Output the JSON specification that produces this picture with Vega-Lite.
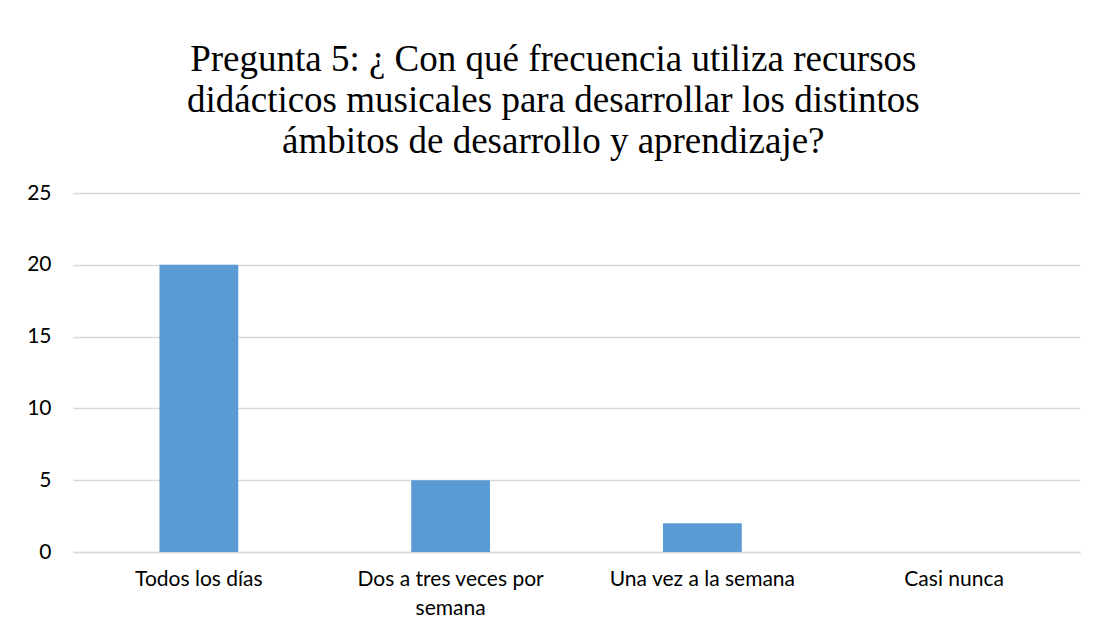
{
  "$schema": "https://vega.github.io/schema/vega-lite/v6.json",
  "width": 1098,
  "height": 637,
  "autosize": {"type": "fit", "contains": "padding"},
  "padding": {"left": 26, "right": 18, "top": 41, "bottom": 19},
  "background": "white",
  "title": {
    "text": ["Pregunta 5:  ¿ Con qué frecuencia utiliza recursos", "didácticos musicales para desarrollar los distintos", "ámbitos de desarrollo y aprendizaje?"],
    "font": "Liberation Serif",
    "fontSize": 37,
    "fontWeight": "normal",
    "color": "#000000",
    "lineHeight": 41,
    "anchor": "middle",
    "frame": "bounds",
    "offset": 21
  },
  "data": {
    "values": [
      {"categoria": "Todos los días", "valor": 20},
      {"categoria": "Dos a tres veces por semana", "valor": 5},
      {"categoria": "Una vez a la semana", "valor": 2},
      {"categoria": "Casi nunca", "valor": 0}
    ]
  },
  "mark": {"type": "bar", "color": "#5B9BD5"},
  "encoding": {
    "x": {
      "field": "categoria",
      "type": "nominal",
      "sort": null,
      "title": null,
      "scale": {"paddingInner": 0.687, "paddingOuter": 0.3435},
      "axis": {
        "labelAngle": 0,
        "labelFont": "Lato",
        "labelFontSize": 21,
        "labelColor": "#000000",
        "labelPadding": 16,
        "labelLineHeight": 29,
        "labelLimit": 0,
        "labelExpr": "datum.label == 'Dos a tres veces por semana' ? ['Dos a tres veces por', 'semana'] : datum.label",
        "ticks": false,
        "domain": true,
        "domainColor": "#D9D9D9",
        "domainWidth": 1.5,
        "grid": false
      }
    },
    "y": {
      "field": "valor",
      "type": "quantitative",
      "title": null,
      "scale": {"domain": [0, 25]},
      "axis": {
        "values": [0, 5, 10, 15, 20, 25],
        "labelFont": "Lato",
        "labelFontSize": 21,
        "labelColor": "#000000",
        "labelPadding": 22,
        "ticks": false,
        "domain": false,
        "grid": true,
        "gridColor": "#D9D9D9",
        "gridWidth": 1.5
      }
    }
  },
  "config": {"view": {"stroke": null}}
}
